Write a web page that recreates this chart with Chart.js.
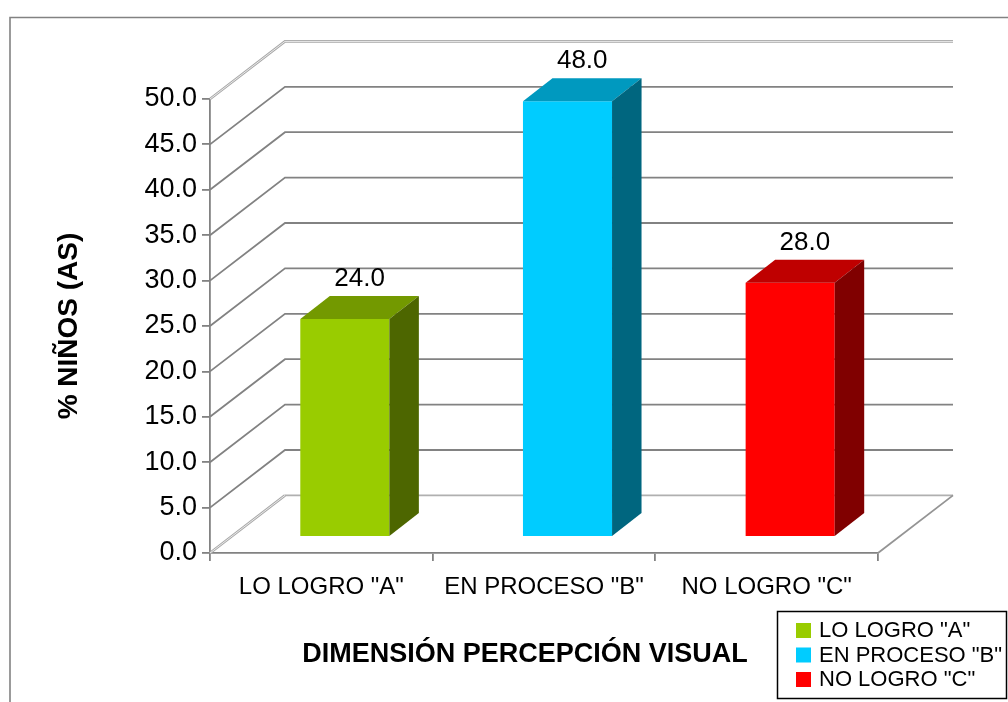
<!DOCTYPE html>
<html>
<head>
<meta charset="utf-8">
<script src="https://cdn.jsdelivr.net/npm/chart.js@4.4.1/dist/chart.umd.min.js"></script>
<style>
  html, body { margin: 0; padding: 0; background: #fff; }
  #wrap { width: 1008px; height: 702px; }
</style>
</head>
<body>
<div id="wrap"><canvas id="chart" width="1008" height="702"></canvas></div>
<script>
// data
const categories = ['LO LOGRO "A"', 'EN PROCESO "B"', 'NO LOGRO "C"'];
const values = [24.0, 48.0, 28.0];
const yMin = 0, yMax = 50, yStep = 5;
const yTitle = '% NIÑOS (AS)';
const xTitle = 'DIMENSIÓN PERCEPCIÓN VISUAL';

// look
const frontColors = ['#99cc00', '#00ccff', '#ff0000'];
const topColors = ['#739900', '#0099bf', '#bf0000'];
const sideColors = ['#4d6600', '#00667f', '#800000'];
const FONT = '"Liberation Sans", Arial, Helvetica, sans-serif';
const GRID = '#828282';
const WALL = { dx: 75, dy: -57.6 };            // depth of the box
const BAR = { fx: 23.5, fy: -16, dx: 29.5, dy: -23 }; // bar offset + depth

Chart.defaults.font.family = FONT;
Chart.defaults.color = '#000';

function line(ctx, pts, color, w) {
  ctx.beginPath();
  ctx.moveTo(pts[0][0], pts[0][1]);
  for (let i = 1; i < pts.length; i++) ctx.lineTo(pts[i][0], pts[i][1]);
  ctx.strokeStyle = color; ctx.lineWidth = w; ctx.stroke();
}
function edgeLine(ctx, pts) {
  line(ctx, pts, '#a8a8a8', 2.6);
  line(ctx, pts, '#f2f2f2', 0.9);
}
function poly(ctx, pts, fill) {
  ctx.beginPath();
  ctx.moveTo(pts[0][0], pts[0][1]);
  for (let i = 1; i < pts.length; i++) ctx.lineTo(pts[i][0], pts[i][1]);
  ctx.closePath(); ctx.fillStyle = fill; ctx.fill();
}

const frame3d = {
  id: 'frame3d',
  beforeDraw(chart) {
    const ctx = chart.ctx;
    ctx.save();
    line(ctx, [[10, 702], [10, 17.5], [1008, 17.5]], GRID, 1.6);
    ctx.restore();
  },
  beforeDatasetsDraw(chart) {
    const { ctx, chartArea: a, scales: { y } } = chart;
    ctx.save();
    // walls + gridlines
    y.ticks.forEach(t => {
      const py = y.getPixelForValue(t.value);
      const bx = a.left + WALL.dx, by = py + WALL.dy, ex = a.right + WALL.dx;
      if (t.value === yMin) {
        edgeLine(ctx, [[a.left, py], [bx, by]]);
        line(ctx, [[bx, by], [ex, by]], '#b0b0b0', 1.8);
        line(ctx, [[ex, by], [a.right, py]], '#949494', 1.8);
      } else if (t.value === yMax) {
        edgeLine(ctx, [[a.left, py], [bx, by], [ex, by]]);
      } else {
        line(ctx, [[a.left, py], [bx, by], [ex, by]], GRID, 1.8);
      }
    });
    // bars
    const meta = chart.getDatasetMeta(0);
    meta.data.forEach((bar, i) => {
      const p = bar.getProps(['x', 'y', 'base', 'width'], true);
      const l = p.x - p.width / 2 + BAR.fx, r = l + p.width;
      const ty = p.y + BAR.fy, byy = p.base + BAR.fy;
      poly(ctx, [[l, ty], [r, ty], [r, byy], [l, byy]], frontColors[i]);
      poly(ctx, [[l, ty], [r, ty], [r + BAR.dx, ty + BAR.dy], [l + BAR.dx, ty + BAR.dy]], topColors[i]);
      poly(ctx, [[r, ty], [r + BAR.dx, ty + BAR.dy], [r + BAR.dx, byy + BAR.dy], [r, byy]], sideColors[i]);
      ctx.fillStyle = '#000';
      ctx.font = '26px ' + FONT;
      ctx.textAlign = 'center';
      ctx.textBaseline = 'alphabetic';
      ctx.fillText(values[i].toFixed(1), (l + r) / 2 + BAR.dx / 2, ty + BAR.dy - 10);
    });
    ctx.restore();
    return false;
  },
  afterDraw(chart) {
    const ctx = chart.ctx;
    ctx.save();
    // x title
    ctx.fillStyle = '#000';
    ctx.font = 'bold 27px ' + FONT;
    ctx.textAlign = 'center';
    ctx.textBaseline = 'alphabetic';
    ctx.fillText(xTitle, 525, 662);
    // legend
    ctx.strokeStyle = '#000'; ctx.lineWidth = 1.5;
    ctx.strokeRect(777.5, 611.5, 229, 87);
    ctx.font = '22px ' + FONT;
    ctx.textAlign = 'left';
    ctx.textBaseline = 'middle';
    categories.forEach((c, i) => {
      const ry = 623 + i * 24.5;
      ctx.fillStyle = frontColors[i];
      ctx.fillRect(796, ry, 15, 15);
      ctx.fillStyle = '#000';
      ctx.fillText(c, 819, ry + 8);
    });
    ctx.restore();
  }
};

new Chart(document.getElementById('chart'), {
  type: 'bar',
  data: {
    labels: categories,
    datasets: [{ data: values, backgroundColor: frontColors, categoryPercentage: 1, barPercentage: 0.4 }]
  },
  options: {
    responsive: false,
    animation: false,
    layout: { padding: { top: 99, right: 130, left: 0, bottom: 0 } },
    plugins: { legend: { display: false }, tooltip: { enabled: false } },
    scales: {
      x: {
        ticks: { font: { size: 24 }, padding: 12, maxRotation: 0, autoSkip: false },
        grid: { drawOnChartArea: false, tickLength: 8, color: GRID, lineWidth: 1.8, offset: true },
        border: { color: GRID, width: 1.8 },
        afterFit: s => { s.height = 149; }
      },
      y: {
        min: yMin, max: yMax,
        ticks: { stepSize: yStep, callback: v => v.toFixed(1), font: { size: 27 }, padding: 5 },
        grid: { drawOnChartArea: false, tickLength: 8, color: GRID, lineWidth: 1.8 },
        border: { color: GRID, width: 1.8 },
        title: { display: true, text: yTitle, font: { size: 28, weight: 'bold' }, padding: { top: 52, bottom: 0 } },
        afterFit: s => { s.width = 210; }
      }
    }
  },
  plugins: [frame3d]
});
</script>
</body>
</html>
